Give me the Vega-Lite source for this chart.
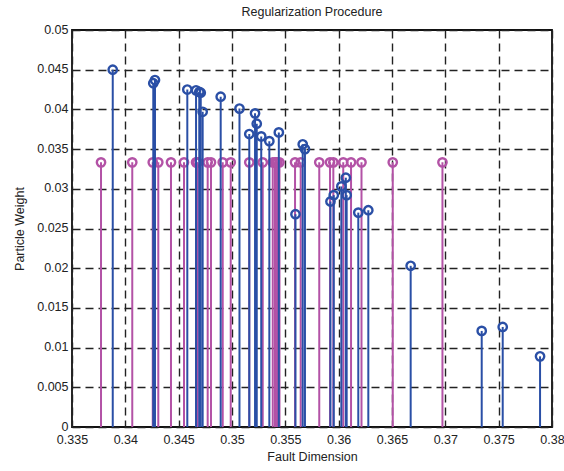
{
  "$schema": "https://vega.github.io/schema/vega-lite/v6.json",
  "width": 480,
  "height": 397,
  "autosize": {"type": "none"},
  "padding": {"left": 72, "top": 30, "right": 12, "bottom": 44},
  "background": "white",
  "title": {"text": "Regularization Procedure", "font": "Liberation Sans", "fontSize": 12.5, "fontWeight": "normal", "color": "#222", "offset": 5},
  "config": {
    "view": {"stroke": "#111", "strokeWidth": 1.8},
    "axis": {"labelFont": "Liberation Sans", "titleFont": "Liberation Sans", "labelFontSize": 12.5, "titleFontSize": 12.5, "titleFontWeight": "normal", "labelColor": "#222", "titleColor": "#222", "domain": false, "ticks": false, "grid": true, "gridColor": "#222", "gridDash": [8, 5], "gridWidth": 1.4, "gridOpacity": 1}
  },
  "data": {"values": [
    {"x": 0.33772, "w": 0.03333, "s": "prior"},
    {"x": 0.34065, "w": 0.03333, "s": "prior"},
    {"x": 0.34257, "w": 0.03333, "s": "prior"},
    {"x": 0.34309, "w": 0.03333, "s": "prior"},
    {"x": 0.34428, "w": 0.03333, "s": "prior"},
    {"x": 0.34550, "w": 0.03333, "s": "prior"},
    {"x": 0.34663, "w": 0.03333, "s": "prior"},
    {"x": 0.34670, "w": 0.03333, "s": "prior"},
    {"x": 0.34678, "w": 0.03333, "s": "prior"},
    {"x": 0.34772, "w": 0.03333, "s": "prior"},
    {"x": 0.34803, "w": 0.03333, "s": "prior"},
    {"x": 0.34913, "w": 0.03333, "s": "prior"},
    {"x": 0.34988, "w": 0.03333, "s": "prior"},
    {"x": 0.35162, "w": 0.03333, "s": "prior"},
    {"x": 0.35288, "w": 0.03333, "s": "prior"},
    {"x": 0.35382, "w": 0.03333, "s": "prior"},
    {"x": 0.35403, "w": 0.03333, "s": "prior"},
    {"x": 0.35412, "w": 0.03333, "s": "prior"},
    {"x": 0.35425, "w": 0.03333, "s": "prior"},
    {"x": 0.35445, "w": 0.03333, "s": "prior"},
    {"x": 0.35591, "w": 0.03333, "s": "prior"},
    {"x": 0.35644, "w": 0.03333, "s": "prior"},
    {"x": 0.35818, "w": 0.03333, "s": "prior"},
    {"x": 0.35919, "w": 0.03333, "s": "prior"},
    {"x": 0.35950, "w": 0.03333, "s": "prior"},
    {"x": 0.36043, "w": 0.03333, "s": "prior"},
    {"x": 0.36116, "w": 0.03333, "s": "prior"},
    {"x": 0.36214, "w": 0.03333, "s": "prior"},
    {"x": 0.36507, "w": 0.03333, "s": "prior"},
    {"x": 0.36973, "w": 0.03333, "s": "prior"},
    {"x": 0.33882, "w": 0.0450, "s": "post"},
    {"x": 0.34262, "w": 0.0433, "s": "post"},
    {"x": 0.34278, "w": 0.0437, "s": "post"},
    {"x": 0.34581, "w": 0.0425, "s": "post"},
    {"x": 0.34663, "w": 0.0424, "s": "post"},
    {"x": 0.34693, "w": 0.0422, "s": "post"},
    {"x": 0.34707, "w": 0.0421, "s": "post"},
    {"x": 0.34725, "w": 0.0397, "s": "post"},
    {"x": 0.34894, "w": 0.0416, "s": "post"},
    {"x": 0.35070, "w": 0.0401, "s": "post"},
    {"x": 0.35216, "w": 0.0395, "s": "post"},
    {"x": 0.35232, "w": 0.0382, "s": "post"},
    {"x": 0.35162, "w": 0.0369, "s": "post"},
    {"x": 0.35274, "w": 0.0366, "s": "post"},
    {"x": 0.35350, "w": 0.0360, "s": "post"},
    {"x": 0.35439, "w": 0.0371, "s": "post"},
    {"x": 0.35663, "w": 0.0356, "s": "post"},
    {"x": 0.35684, "w": 0.0350, "s": "post"},
    {"x": 0.35595, "w": 0.0268, "s": "post"},
    {"x": 0.35923, "w": 0.0284, "s": "post"},
    {"x": 0.35954, "w": 0.0292, "s": "post"},
    {"x": 0.36067, "w": 0.0314, "s": "post"},
    {"x": 0.36025, "w": 0.0303, "s": "post"},
    {"x": 0.36075, "w": 0.0292, "s": "post"},
    {"x": 0.36184, "w": 0.0270, "s": "post"},
    {"x": 0.36278, "w": 0.0273, "s": "post"},
    {"x": 0.36675, "w": 0.0203, "s": "post"},
    {"x": 0.37341, "w": 0.0121, "s": "post"},
    {"x": 0.37538, "w": 0.0126, "s": "post"},
    {"x": 0.37888, "w": 0.0089, "s": "post"}
  ]},
  "encoding": {
    "x": {"field": "x", "type": "quantitative", "scale": {"domain": [0.335, 0.38], "nice": false, "zero": false},
      "axis": {"title": "Fault Dimension", "values": [0.335, 0.34, 0.345, 0.35, 0.355, 0.36, 0.365, 0.37, 0.375, 0.38], "format": "~g", "labelPadding": 6, "titlePadding": 5, "labelFlush": false}},
    "y": {"field": "w", "type": "quantitative", "scale": {"domain": [0, 0.05], "nice": false},
      "axis": {"title": "Particle Weight", "values": [0, 0.005, 0.01, 0.015, 0.02, 0.025, 0.03, 0.035, 0.04, 0.045, 0.05], "format": "~g", "labelPadding": 4, "titlePadding": 10, "labelOffset": -1}}
  },
  "layer": [
    {"transform": [{"filter": "datum.s === 'prior'"}], "mark": {"type": "rule", "color": "#B352A6", "strokeWidth": 2}, "encoding": {"y2": {"datum": 0}}},
    {"transform": [{"filter": "datum.s === 'prior'"}], "mark": {"type": "point", "shape": "circle", "filled": false, "color": "#B352A6", "strokeWidth": 2.4, "size": 70, "opacity": 1}},
    {"transform": [{"filter": "datum.s === 'post'"}], "mark": {"type": "rule", "color": "#2A4FA6", "strokeWidth": 2}, "encoding": {"y2": {"datum": 0}}},
    {"transform": [{"filter": "datum.s === 'post'"}], "mark": {"type": "point", "shape": "circle", "filled": false, "color": "#2A4FA6", "strokeWidth": 2.4, "size": 70, "opacity": 1}}
  ]
}
